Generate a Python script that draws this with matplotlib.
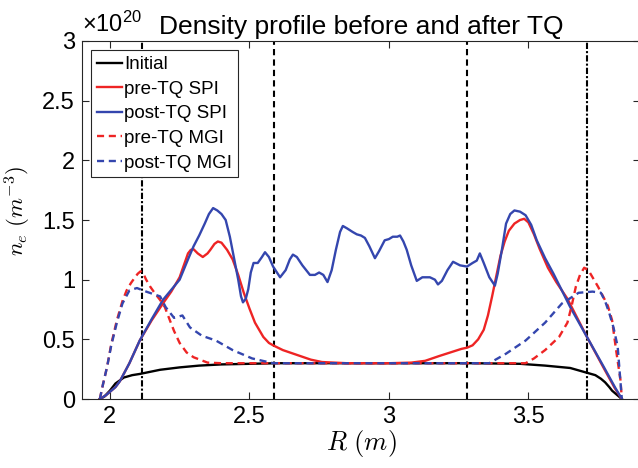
import numpy as np
import matplotlib
matplotlib.use("Agg")
import matplotlib.pyplot as plt

plt.rcParams['font.family'] = ['Liberation Sans', 'DejaVu Sans']
plt.rcParams['mathtext.fontset'] = 'custom'
plt.rcParams['mathtext.rm'] = 'Liberation Sans'
plt.rcParams['mathtext.it'] = 'Liberation Sans:italic'

# DATA (density in units of 1e20 m^-3)
R_init = [1.964, 1.98, 2.0, 2.02, 2.05, 2.08, 2.107, 2.18, 2.25, 2.32, 2.4, 2.5, 2.6,
          3.3, 3.47, 3.56, 3.65, 3.71, 3.74, 3.76, 3.775, 3.79, 3.80, 3.82, 3.835]
ne_init = [0, 0.02, 0.07, 0.13, 0.18, 0.20, 0.21, 0.245, 0.265, 0.28, 0.29, 0.295, 0.3,
           0.3, 0.295, 0.28, 0.26, 0.22, 0.20, 0.17, 0.14, 0.10, 0.07, 0.03, 0]

R_pre_spi = [1.964, 1.985, 2.0, 2.02, 2.036, 2.07, 2.107, 2.15, 2.19, 2.22, 2.25, 2.265,
             2.28, 2.29, 2.30, 2.315, 2.333, 2.35, 2.36, 2.375, 2.387, 2.40, 2.42, 2.44,
             2.46, 2.48, 2.50, 2.52, 2.55, 2.57, 2.585, 2.62, 2.67, 2.72, 2.76, 2.85, 3.0,
             3.08, 3.13, 3.18, 3.22, 3.26, 3.28, 3.30, 3.32, 3.34, 3.355, 3.37, 3.385,
             3.40, 3.415, 3.43, 3.45, 3.47, 3.485, 3.50, 3.52, 3.54, 3.57, 3.6, 3.64,
             3.71, 3.77, 3.81, 3.835]
ne_pre_spi = [0, 0.03, 0.06, 0.10, 0.15, 0.30, 0.49, 0.66, 0.80, 0.90, 1.02, 1.12,
              1.22, 1.25, 1.255, 1.22, 1.19, 1.22, 1.25, 1.30, 1.32, 1.31, 1.25, 1.17,
              1.04, 0.89, 0.76, 0.64, 0.52, 0.47, 0.45, 0.41, 0.37, 0.33, 0.31, 0.30, 0.30,
              0.305, 0.32, 0.36, 0.39, 0.42, 0.43, 0.45, 0.50, 0.58, 0.70, 0.86, 1.03,
              1.20, 1.32, 1.41, 1.47, 1.50, 1.51, 1.48, 1.38, 1.26, 1.10, 0.98, 0.84,
              0.52, 0.26, 0.09, 0]

R_post_spi = [1.964, 1.985, 2.0, 2.02, 2.036, 2.07, 2.107, 2.15, 2.19, 2.25, 2.28, 2.30,
              2.32, 2.34, 2.355, 2.37, 2.385, 2.40, 2.415, 2.43, 2.445, 2.46, 2.47, 2.477,
              2.487, 2.496, 2.505, 2.515, 2.53, 2.545, 2.556, 2.57, 2.585, 2.61, 2.63,
              2.645, 2.656, 2.67, 2.69, 2.717, 2.735, 2.75, 2.765, 2.78, 2.795, 2.81,
              2.825, 2.835, 2.85, 2.87, 2.885, 2.9, 2.914, 2.93, 2.95, 2.965, 2.985, 3.0,
              3.014, 3.03, 3.04, 3.052, 3.064, 3.08, 3.10, 3.12, 3.147, 3.165, 3.176,
              3.19, 3.21, 3.23, 3.255, 3.28, 3.30, 3.315, 3.326, 3.34, 3.36, 3.38, 3.39,
              3.405, 3.42, 3.435, 3.45, 3.47, 3.49, 3.51, 3.53, 3.56, 3.59, 3.65, 3.71,
              3.77, 3.81, 3.835]
ne_post_spi = [0, 0.03, 0.06, 0.10, 0.15, 0.30, 0.49, 0.67, 0.83, 1.0, 1.17, 1.28,
               1.37, 1.47, 1.55, 1.60, 1.58, 1.55, 1.50, 1.36, 1.18, 1.0, 0.86, 0.81,
               0.84, 0.92, 1.06, 1.14, 1.14, 1.19, 1.23, 1.19, 1.11, 1.02, 1.08,
               1.17, 1.21, 1.19, 1.12, 1.04, 1.04, 1.06, 1.04, 0.98, 1.08, 1.25,
               1.40, 1.45, 1.43, 1.40, 1.38, 1.37, 1.35, 1.28, 1.18, 1.24, 1.33, 1.34,
               1.36, 1.36, 1.37, 1.32, 1.25, 1.12, 0.99, 1.02, 1.02, 1.0, 0.96,
               0.99, 1.08, 1.15, 1.12, 1.11, 1.14, 1.16, 1.22, 1.14, 1.02, 0.95, 1.05,
               1.25, 1.47, 1.55, 1.58, 1.57, 1.54, 1.46, 1.33, 1.18, 1.05, 0.77, 0.52,
               0.27, 0.10, 0]

R_pre_mgi = [1.964, 1.975, 1.99, 2.005, 2.025, 2.045, 2.06, 2.075, 2.09, 2.1, 2.11, 2.12,
             2.13, 2.145, 2.16, 2.18, 2.197, 2.215, 2.23, 2.25, 2.275, 2.30, 2.35, 2.4,
             3.49, 3.52, 3.56, 3.61, 3.64, 3.655, 3.67, 3.685, 3.70, 3.715, 3.73, 3.75,
             3.77, 3.785, 3.80, 3.815, 3.83, 3.835]
ne_pre_mgi = [0, 0.12, 0.27, 0.46, 0.66, 0.82, 0.91, 0.97, 1.02, 1.05, 1.07, 1.05,
              1.0, 0.94, 0.89, 0.83, 0.77, 0.66, 0.57, 0.47, 0.39, 0.35, 0.305, 0.30,
              0.30, 0.34, 0.41, 0.52, 0.64, 0.78, 0.94, 1.04, 1.10, 1.08, 1.02, 0.94,
              0.85, 0.78, 0.66, 0.40, 0.16, 0]

R_post_mgi = [1.964, 1.975, 1.99, 2.005, 2.025, 2.045, 2.07, 2.097, 2.13, 2.18, 2.20,
              2.23, 2.245, 2.26, 2.287, 2.33, 2.38, 2.44, 2.51, 2.585, 3.36, 3.42, 3.49,
              3.56, 3.62, 3.68, 3.73, 3.76, 3.775, 3.79, 3.805, 3.82, 3.835]
ne_post_mgi = [0, 0.12, 0.27, 0.45, 0.64, 0.80, 0.91, 0.93, 0.90, 0.86, 0.77,
               0.68, 0.69, 0.70, 0.60, 0.53, 0.49, 0.41, 0.34, 0.30, 0.30, 0.38, 0.49,
               0.64, 0.80, 0.89, 0.90, 0.89, 0.82, 0.72, 0.60, 0.44, 0]

R_dashdot = [2.114, 3.71]     # dash-dot markers
R_dashed = [2.59, 3.28]       # dashed markers

yticks = [0, 0.5, 1, 1.5, 2, 2.5, 3]
ytick_labels = ['0', '0.5', '1', '1.5', '2', '2.5', '3']
xticks = [2, 2.5, 3, 3.5]
xtick_labels = ['2', '2.5', '3', '3.5']

scale = 1e20
red = '#ee2424'
blue = '#3446ae'

fig = plt.figure(figsize=(6.38, 4.68), dpi=100)
ax = fig.add_axes([0.1285, 0.1474, 0.8746, 0.765])

for r in R_dashdot:
    ax.axvline(r, color='k', lw=1.5, linestyle=(0, (3, 1, 1, 1)))
for r in R_dashed:
    ax.axvline(r, color='k', lw=1.5, linestyle=(0, (3, 2)))

ax.plot(R_init, np.array(ne_init)*scale, color='k', lw=1.7, label='Initial')
ax.plot(R_pre_spi, np.array(ne_pre_spi)*scale, color=red, lw=1.7, label='pre-TQ SPI')
ax.plot(R_post_spi, np.array(ne_post_spi)*scale, color=blue, lw=1.7, label='post-TQ SPI')
ax.plot(R_pre_mgi, np.array(ne_pre_mgi)*scale, color=red, lw=1.7, linestyle=(0, (3, 2)),
        label='pre-TQ MGI')
ax.plot(R_post_mgi, np.array(ne_post_mgi)*scale, color=blue, lw=1.7, linestyle=(0, (3, 2)),
        label='post-TQ MGI')

ax.set_xlim(1.9, 3.9)
ax.set_ylim(0, 3*scale)
ax.set_xticks(xticks)
ax.set_xticklabels(xtick_labels)
ax.set_yticks(np.array(yticks)*scale)
ax.set_yticklabels(ytick_labels)
ax.text(0.0, 1.012, r'$\times10^{20}$', transform=ax.transAxes, fontsize=17,
        ha='left', va='bottom')

ax.tick_params(direction='in', top=True, right=True, length=5, width=0.8,
               labelsize=17, colors='#262626', labelcolor='k', pad=5)
for s in ax.spines.values():
    s.set_color('#262626')
    s.set_linewidth(0.8)

ax.set_title('Density profile before and after TQ', fontsize=19, pad=5)
ax.set_xlabel(r'$R\ (m)$', fontsize=19, math_fontfamily='cm', labelpad=0)
ax.set_ylabel(r'$n_e\ (m^{-3})$', fontsize=16.5, math_fontfamily='cm')
ax.yaxis.set_label_coords(-0.088, 0.525)

leg = ax.legend(loc='upper left', fontsize=13.5, handlelength=1.35, handletextpad=0.1,
                borderpad=0.3, labelspacing=0.4, borderaxespad=0.5, fancybox=False,
                framealpha=1, edgecolor='#262626')
leg.get_frame().set_linewidth(0.8)

fig.savefig('out.png', dpi=100)
